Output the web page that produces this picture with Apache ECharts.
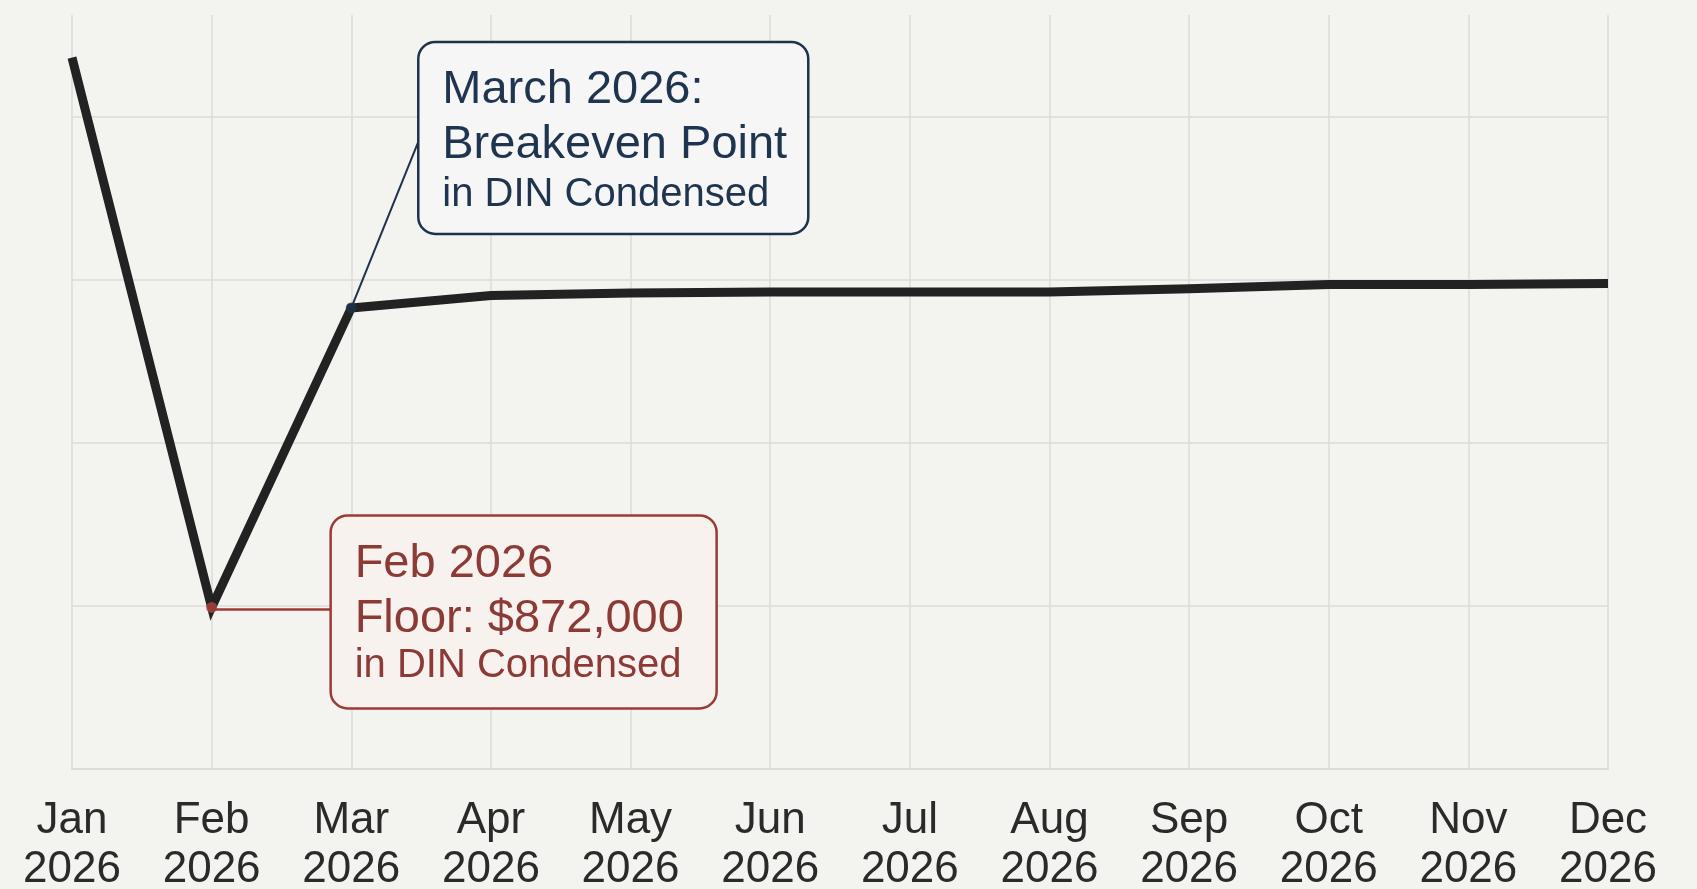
<!DOCTYPE html>
<html><head><meta charset="utf-8">
<script src="https://cdn.jsdelivr.net/npm/echarts@6/dist/echarts.min.js"></script>
<style>html,body{margin:0;padding:0;background:#f3f3ef}#c{width:1697px;height:889px}</style>
</head><body><div id="c"></div>
<script>
// ---- data ----
const months = ['Jan','Feb','Mar','Apr','May','Jun','Jul','Aug','Sep','Oct','Nov','Dec'];
const yearLabel = '2026';
const balanceK = [3840, 872, 2489, 2556, 2570, 2575, 2575, 2575, 2592, 2615, 2615, 2621]; // thousands of $
const floorIndex = 1;
const breakevenIndex = 2;
const marchNote = ['March 2026:', 'Breakeven Point', 'in DIN Condensed'];
const febNote = ['Feb 2026', 'Floor: $872,000', 'in DIN Condensed'];
const yMin = 0, yInterval = 880, yMax = 4070;

// ---- style ----
const FONT = '"Liberation Sans", Arial, Helvetica, sans-serif';
const GRID = '#dcdcd7';
const NAVY = '#1e324c';
const RED = '#9c3a37';

const chart = echarts.init(document.getElementById('c'), null, {renderer: 'canvas'});
chart.setOption({
  backgroundColor: '#f3f3ef',
  animation: false,
  grid: {left: 72, right: 89, top: 15, bottom: 120, containLabel: false, outerBoundsMode: 'none'},
  xAxis: {
    type: 'category',
    data: months,
    boundaryGap: false,
    axisLine: {show: true, lineStyle: {color: GRID, width: 2}},
    axisTick: {show: false},
    splitLine: {show: true, lineStyle: {color: GRID, width: 1.5}},
    axisLabel: {
      formatter: v => v + '\n' + yearLabel,
      color: '#2a2a2a', fontFamily: FONT, fontSize: 44, lineHeight: 49, margin: 27
    }
  },
  yAxis: {
    type: 'value', min: yMin, max: yMax, interval: yInterval,
    axisLine: {show: false}, axisTick: {show: false}, axisLabel: {show: false},
    splitLine: {show: true, showMaxLine: false, lineStyle: {color: GRID, width: 1.5}}
  },
  series: [
    {
      type: 'line', data: balanceK, symbol: 'none',
      lineStyle: {color: '#222222', width: 9, cap: 'butt', join: 'miter'},
      z: 3
    },
    {
      type: 'scatter',
      data: [
        {value: [breakevenIndex, balanceK[breakevenIndex]], itemStyle: {color: NAVY}},
        {value: [floorIndex, balanceK[floorIndex]], itemStyle: {color: '#b1443f'}}
      ],
      symbolSize: 11, z: 6
    }
  ]
});

const pM = chart.convertToPixel({gridIndex: 0}, [breakevenIndex, balanceK[breakevenIndex]]);
const pF = chart.convertToPixel({gridIndex: 0}, [floorIndex, balanceK[floorIndex]]);

function noteBox(x, y, w, h, stroke, fill, textColor, lines, mids) {
  const els = [{
    type: 'rect', z: 20,
    shape: {x: x, y: y, width: w, height: h, r: 17},
    style: {fill: fill, stroke: stroke, lineWidth: 2.5}
  }];
  lines.forEach((t, i) => {
    els.push({
      type: 'text', z: 21, x: x + 24, y: y + mids[i],
      style: {text: t, fill: textColor, fontFamily: FONT, fontSize: i < 2 ? 47 : 40,
              align: 'left', verticalAlign: 'middle'}
    });
  });
  return els;
}

const mBox = {x: pM[0] + 67, y: pM[1] - 266, w: 390, h: 192};
const fBox = {x: pF[0] + 119, y: pF[1] - 92, w: 386, h: 193};

const graphics = [
  {type: 'line', z: 19, shape: {x1: pM[0], y1: pM[1], x2: mBox.x, y2: pM[1] - 166},
   style: {stroke: NAVY, lineWidth: 2}},
  {type: 'line', z: 19, shape: {x1: pF[0], y1: pF[1] + 2, x2: fBox.x, y2: pF[1] + 2},
   style: {stroke: RED, lineWidth: 2.5}}
]
  .concat(noteBox(mBox.x, mBox.y, mBox.w, mBox.h, NAVY, '#f5f6f5', '#1f344e', marchNote, [48, 103, 153]))
  .concat(noteBox(fBox.x, fBox.y, fBox.w, fBox.h, RED, '#f8f2ef', '#8c3a36', febNote, [49, 104, 151]));

chart.setOption({graphic: graphics});
</script>
</body></html>
